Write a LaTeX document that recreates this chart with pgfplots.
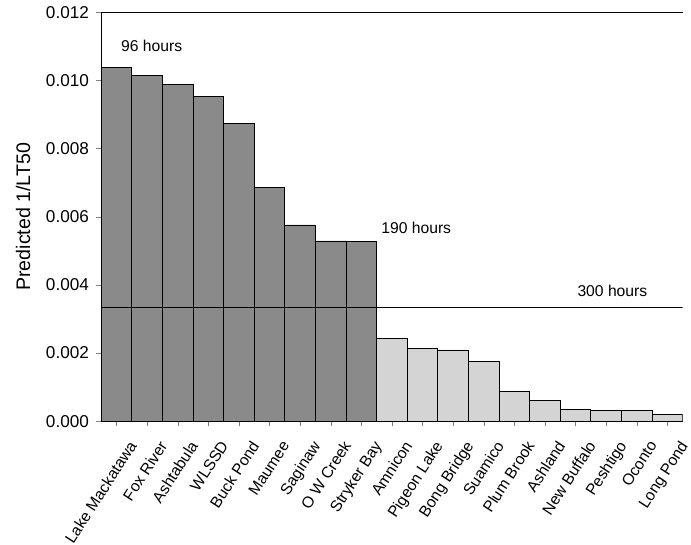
\documentclass[border=0pt]{standalone}
\usepackage{pgfplots}
\pgfplotsset{compat=1.18}
\usepackage{fontspec}
\setmainfont{Liberation Sans}
\definecolor{darkbar}{RGB}{138,138,138}
\definecolor{lightbar}{RGB}{212,212,212}
\begin{document}
\begin{tikzpicture}
\begin{axis}[
  scale only axis,
  width=593pt, height=417pt,
  ymin=0, ymax=0.012,
  xmin=-0.5, xmax=18.5,
  ybar, bar width=1, bar shift=0pt,
  axis x line=box, axis y line=left,
  y axis line style={-},
  tick pos=left,
  tick align=outside,
  major tick length=5pt,
  ytick={0,0.002,0.004,0.006,0.008,0.010,0.012},
  scaled y ticks=false,
  yticklabel style={/pgf/number format/fixed, /pgf/number format/fixed zerofill, /pgf/number format/precision=3, font=\fontsize{17.5}{20}\selectfont, xshift=-4pt},
  /pgf/number format/assume math mode=true,
  xtick={0,...,18},
  xticklabels={Lake Mackatawa, Fox River, Ashtabula, WLSSD, Buck Pond, Maumee, Saginaw, O W Creek, Stryker Bay, Amnicon, Pigeon Lake, Bong Bridge, Suamico, Plum Brook, Ashland, New Buffalo, Peshtigo, Oconto, Long Pond},
  xticklabel style={rotate=57, anchor=north east, font=\fontsize{16}{18}\selectfont, inner sep=0pt, xshift=-5pt, yshift=-17pt},
  ylabel={Predicted 1/LT50},
  ylabel style={font=\fontsize{20}{24}\selectfont},
  ylabel shift=9pt,
  clip=true,
]
\addplot[fill=darkbar, draw=black, line width=0.8pt] coordinates {
(0,0.01037) (1,0.01014) (2,0.00989) (3,0.00953) (4,0.00874) (5,0.00686) (6,0.00576) (7,0.00529) (8,0.00527)};
\addplot[fill=lightbar, draw=black, line width=0.8pt] coordinates {
(9,0.00244) (10,0.00214) (11,0.00209) (12,0.00175) (13,0.00086) (14,0.00062) (15,0.00034) (16,0.00032) (17,0.00031) (18,0.00020)};
\addplot[sharp plot, black, line width=0.8pt] coordinates {(-0.5,0.00333) (18.5,0.00333)};
\node[anchor=west, font=\fontsize{16}{19}\selectfont] at (axis cs:0.04,0.0110) {96 hours};
\node[anchor=west, font=\fontsize{16}{19}\selectfont] at (axis cs:8.54,0.00568) {190 hours};
\node[anchor=west, font=\fontsize{16}{19}\selectfont] at (axis cs:14.95,0.00381) {300 hours};
\end{axis}
\path ([xshift=-13pt]current bounding box.west);
\path ([yshift=3pt]current bounding box.north);
\end{tikzpicture}
\end{document}
